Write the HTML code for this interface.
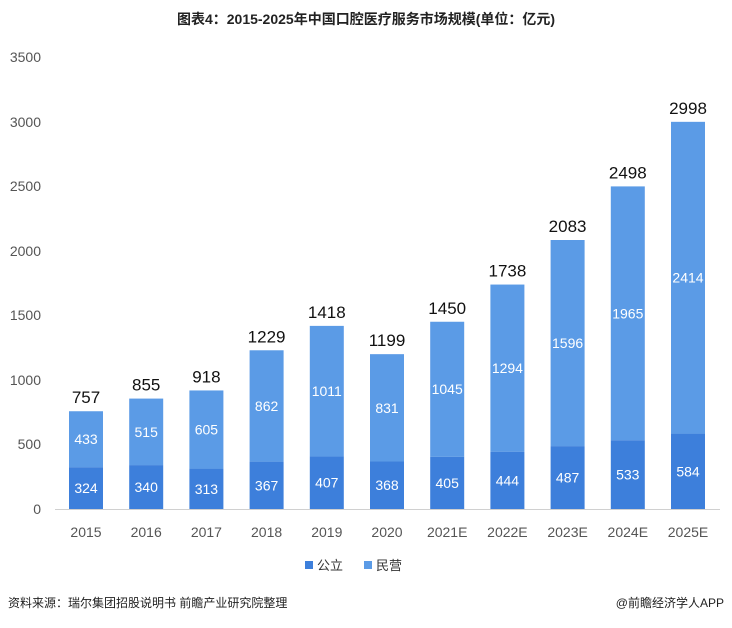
<!DOCTYPE html>
<html><head><meta charset="utf-8"><style>
body{margin:0;background:#fff;width:732px;height:623px;overflow:hidden;font-family:"Liberation Sans","Noto Sans CJK SC",sans-serif}
</style></head><body>
<svg width="732" height="623" xmlns="http://www.w3.org/2000/svg" font-family="Liberation Sans, Noto Sans CJK SC, sans-serif">
<text x="366" y="24" text-anchor="middle" font-size="14" font-weight="bold" fill="#222">图表4：2015-2025年中国口腔医疗服务市场规模(单位：亿元)</text>
<g font-size="14" fill="#555" text-anchor="end">
<text x="41" y="514">0</text><text x="41" y="449">500</text><text x="41" y="385">1000</text><text x="41" y="320">1500</text><text x="41" y="256">2000</text><text x="41" y="191">2500</text><text x="41" y="127">3000</text><text x="41" y="62">3500</text>
</g>
<line x1="55" y1="509.5" x2="720" y2="509.5" stroke="#d0d0d0"/>
<g fill="#3d7fdb">
<rect x="69" y="467.16" width="34" height="41.84"/>
<rect x="129.2" y="465.09" width="34" height="43.91"/>
<rect x="189.4" y="468.58" width="34" height="40.42"/>
<rect x="249.6" y="461.6" width="34" height="47.4"/>
<rect x="309.8" y="456.44" width="34" height="52.56"/>
<rect x="370" y="461.48" width="34" height="47.52"/>
<rect x="430.2" y="456.7" width="34" height="52.3"/>
<rect x="490.4" y="451.66" width="34" height="57.34"/>
<rect x="550.6" y="446.11" width="34" height="62.89"/>
<rect x="610.8" y="440.17" width="34" height="68.83"/>
<rect x="671" y="433.58" width="34" height="75.42"/>
</g>
<g fill="#5b9be6">
<rect x="69" y="411.24" width="34" height="55.92"/>
<rect x="129.2" y="398.58" width="34" height="66.51"/>
<rect x="189.4" y="390.45" width="34" height="78.13"/>
<rect x="249.6" y="350.28" width="34" height="111.32"/>
<rect x="309.8" y="325.88" width="34" height="130.56"/>
<rect x="370" y="354.16" width="34" height="107.32"/>
<rect x="430.2" y="321.75" width="34" height="134.95"/>
<rect x="490.4" y="284.55" width="34" height="167.11"/>
<rect x="550.6" y="240" width="34" height="206.11"/>
<rect x="610.8" y="186.4" width="34" height="253.77"/>
<rect x="671" y="121.83" width="34" height="311.75"/>
</g>
<g fill="#fff" font-size="14" text-anchor="middle">
<text x="86" y="493.1">324</text><text x="86" y="444.2">433</text>
<text x="146.2" y="492">340</text><text x="146.2" y="436.8">515</text>
<text x="206.4" y="493.8">313</text><text x="206.4" y="434.5">605</text>
<text x="266.6" y="490.3">367</text><text x="266.6" y="410.9">862</text>
<text x="326.8" y="487.7">407</text><text x="326.8" y="396.2">1011</text>
<text x="387" y="490.2">368</text><text x="387" y="412.8">831</text>
<text x="447.2" y="487.9">405</text><text x="447.2" y="394.2">1045</text>
<text x="507.4" y="485.3">444</text><text x="507.4" y="373.1">1294</text>
<text x="567.6" y="482.6">487</text><text x="567.6" y="348.1">1596</text>
<text x="627.8" y="479.6">533</text><text x="627.8" y="318.3">1965</text>
<text x="688" y="476.3">584</text><text x="688" y="282.7">2414</text>
</g>
<g fill="#111" font-size="17" text-anchor="middle">
<text x="86" y="403.2">757</text>
<text x="146.2" y="390.6">855</text>
<text x="206.4" y="382.4">918</text>
<text x="266.6" y="342.3">1229</text>
<text x="326.8" y="317.9">1418</text>
<text x="387" y="346.2">1199</text>
<text x="447.2" y="313.8">1450</text>
<text x="507.4" y="276.6">1738</text>
<text x="567.6" y="232">2083</text>
<text x="627.8" y="178.4">2498</text>
<text x="688" y="113.8">2998</text>
</g>
<g fill="#555" font-size="14" text-anchor="middle">
<text x="86" y="537">2015</text><text x="146.2" y="537">2016</text><text x="206.4" y="537">2017</text><text x="266.6" y="537">2018</text><text x="326.8" y="537">2019</text><text x="387" y="537">2020</text><text x="447.2" y="537">2021E</text><text x="507.4" y="537">2022E</text><text x="567.6" y="537">2023E</text><text x="627.8" y="537">2024E</text><text x="688" y="537">2025E</text>
</g>
<g font-size="13" fill="#333">
<rect x="305" y="561" width="8" height="8" fill="#3d7fdb"/><text x="317" y="570">公立</text>
<rect x="364" y="561" width="8" height="8" fill="#5b9be6"/><text x="376" y="570">民营</text>
</g>
<text x="8" y="607" font-size="12" fill="#222">资料来源：瑞尔集团招股说明书 前瞻产业研究院整理</text>
<text x="724" y="607" font-size="12" fill="#222" text-anchor="end">@前瞻经济学人APP</text>
</svg>
</body></html>
